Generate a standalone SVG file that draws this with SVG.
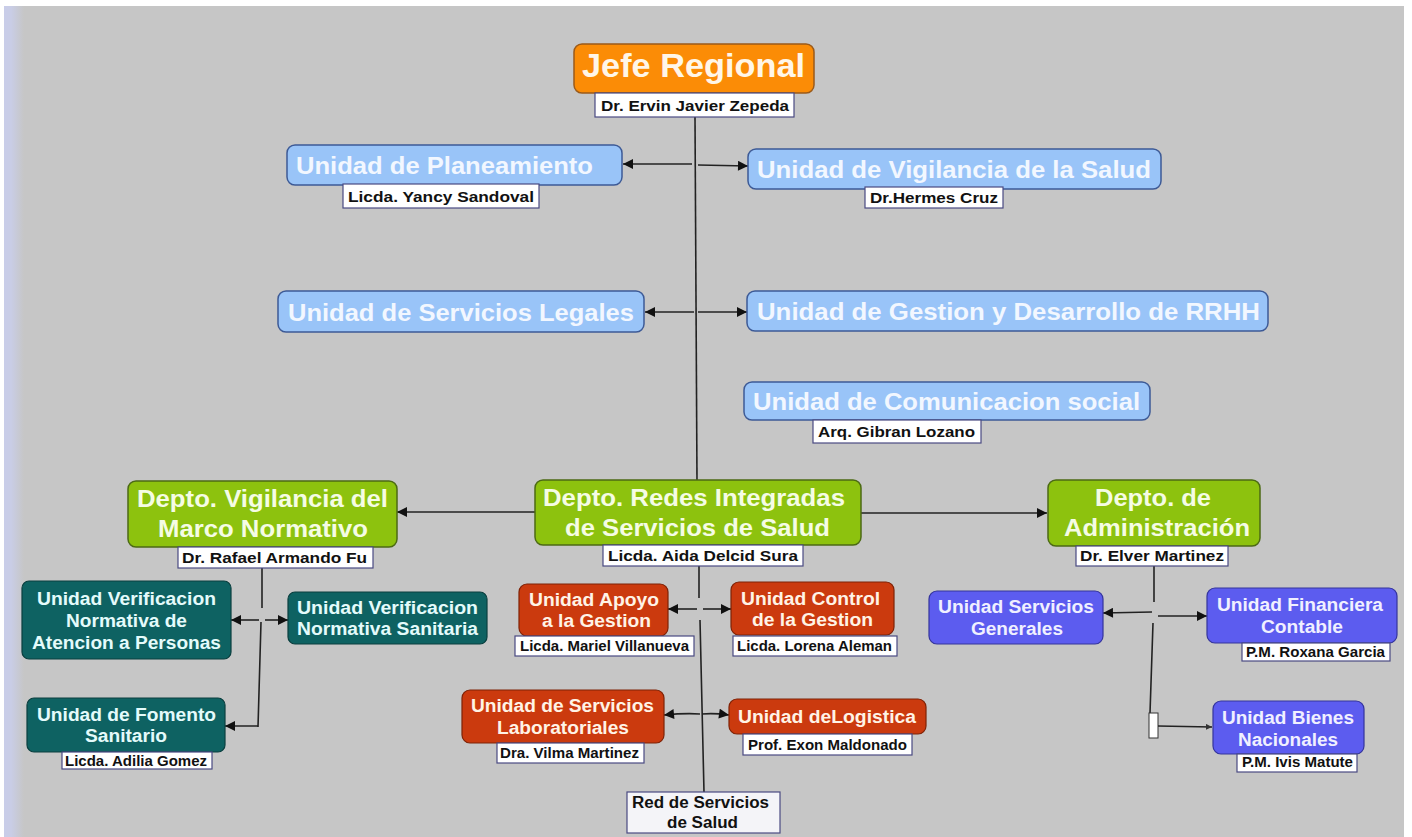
<svg xmlns="http://www.w3.org/2000/svg" width="1412" height="837" viewBox="0 0 1412 837">
<defs>
<linearGradient id="strip" x1="0" y1="0" x2="1" y2="0">
<stop offset="0" stop-color="#c9cde9"/>
<stop offset="0.35" stop-color="#c9cde6"/>
<stop offset="1" stop-color="#c6c6c6"/>
</linearGradient>
<marker id="ah" viewBox="0 0 10 10" markerWidth="11" markerHeight="10" refX="10" refY="5" orient="auto" markerUnits="userSpaceOnUse">
<path d="M0,0 L10,5 L0,10 z" fill="#111"/>
</marker>
<marker id="ahs" viewBox="0 0 10 10" markerWidth="6" markerHeight="6" refX="10" refY="5" orient="auto" markerUnits="userSpaceOnUse">
<path d="M0,0 L10,5 L0,10 z" fill="#333"/>
</marker>
</defs>
<style>
text{font-family:"Liberation Sans",Arial,sans-serif;font-weight:bold;text-anchor:middle}
.lb{fill:#99c4f8;stroke:#3d5a96;stroke-width:1.5}
.lbt{fill:#f2f7ff;font-size:23px}
.or{fill:#fb8c06;stroke:#9a5a1a;stroke-width:1.5}
.ort{fill:#fff6e8;font-size:33px}
.gr{fill:#8dc20e;stroke:#4c6a14;stroke-width:1.5}
.grt{fill:#f5fce4;font-size:23px}
.te{fill:#0e6262;stroke:#0a3f3f;stroke-width:1.2}
.tet{fill:#e4fbfb;font-size:18px}
.rd{fill:#cb3a0e;stroke:#7e2206;stroke-width:1.2}
.rdt{fill:#fff3e6;font-size:18px}
.pu{fill:#5c5cef;stroke:#34349c;stroke-width:1.2}
.put{fill:#f0f0ff;font-size:18px}
.lab{fill:#ffffff;stroke:#4a4a82;stroke-width:1.2}
.labt{fill:#111;font-size:15px}
.con{fill:none;stroke:#222;stroke-width:1.6}
.arr{marker-end:url(#ah)}
</style>
<rect x="0" y="0" width="1412" height="837" fill="#ffffff"/>
<rect x="4" y="6" width="1400" height="831" fill="#c6c6c6"/>
<rect x="4" y="6" width="20" height="831" fill="url(#strip)"/>

<g id="connectors">
<path class="con" d="M695,117 L697,480"/>
<path class="con arr" d="M692,164 L623,164"/>
<path class="con arr" d="M698,165 L748,166"/>
<path class="con arr" d="M694,312 L645,312"/>
<path class="con arr" d="M698,312 L747,312"/>
<path class="con arr" d="M535,512 L397,512"/>
<path class="con arr" d="M861,513 L1047,513"/>
<path class="con" d="M262,568 L262,608 M261,622 L258,727"/>
<path class="con arr" d="M259,620 L231,620"/>
<path class="con arr" d="M265,620 L288,620"/>
<path class="con arr" d="M258,726 L225,726"/>
<path class="con" d="M699,566 L699,598 M700,620 L704,792"/>
<path class="con arr" d="M697,609 L668,609"/>
<path class="con arr" d="M703,609 L731,609"/>
<path class="con arr" d="M700,714 Q685,713 664,715"/>
<path class="con arr" d="M702,714 Q715,713 729,715"/>
<path class="con" d="M1154,566 L1154,602 M1153,623 L1150,713"/>
<path class="con arr" d="M1152,612 L1103,613"/>
<path class="con arr" d="M1158,616 L1207,616"/>
<rect x="1149" y="713" width="9" height="25" fill="#ffffff" stroke="#333" stroke-width="1"/>
<path class="con" d="M1158,726 L1212,727" style="marker-end:url(#ahs)"/>
</g>

<g id="jefe">
<rect class="or" x="574" y="44" width="240" height="49" rx="8"/>
<text class="ort" x="693.5" y="77" textLength="223" lengthAdjust="spacingAndGlyphs">Jefe Regional</text>
<rect class="lab" x="595" y="93" width="199" height="24"/>
<text class="labt" x="695" y="111" textLength="188" lengthAdjust="spacingAndGlyphs">Dr. Ervin Javier Zepeda</text>
</g>

<g id="planeamiento">
<rect class="lb" x="287" y="145" width="335" height="40" rx="8"/>
<text class="lbt" x="444.5" y="174" textLength="297" lengthAdjust="spacingAndGlyphs">Unidad de Planeamiento</text>
<rect class="lab" x="343" y="184" width="196" height="24"/>
<text class="labt" x="441" y="202" textLength="186" lengthAdjust="spacingAndGlyphs">Licda. Yancy Sandoval</text>
</g>

<g id="vigilancia-salud">
<rect class="lb" x="748" y="149" width="413" height="40" rx="8"/>
<text class="lbt" x="954" y="178" textLength="394" lengthAdjust="spacingAndGlyphs">Unidad de Vigilancia de la Salud</text>
<rect class="lab" x="865" y="187" width="138" height="21"/>
<text class="labt" x="934" y="203" textLength="128" lengthAdjust="spacingAndGlyphs">Dr.Hermes Cruz</text>
</g>

<g id="legales">
<rect class="lb" x="278" y="291" width="366" height="41" rx="8"/>
<text class="lbt" x="461" y="321" textLength="346" lengthAdjust="spacingAndGlyphs">Unidad de Servicios Legales</text>
</g>

<g id="rrhh">
<rect class="lb" x="747" y="291" width="521" height="40" rx="8"/>
<text class="lbt" x="1008.5" y="320" textLength="503" lengthAdjust="spacingAndGlyphs">Unidad de Gestion y Desarrollo de RRHH</text>
</g>

<g id="comunicacion">
<rect class="lb" x="744" y="382" width="406" height="38" rx="8"/>
<text class="lbt" x="946.5" y="410" textLength="387" lengthAdjust="spacingAndGlyphs">Unidad de Comunicacion social</text>
<rect class="lab" x="813" y="420" width="168" height="23"/>
<text class="labt" x="896.5" y="437" textLength="157" lengthAdjust="spacingAndGlyphs">Arq. Gibran Lozano</text>
</g>

<g id="depto-vigilancia">
<rect class="gr" x="128" y="481" width="269" height="66" rx="8"/>
<text class="grt" x="262.5" y="507" textLength="251" lengthAdjust="spacingAndGlyphs">Depto. Vigilancia del</text>
<text class="grt" x="263" y="537" textLength="210" lengthAdjust="spacingAndGlyphs">Marco Normativo</text>
<rect class="lab" x="178" y="547" width="195" height="21"/>
<text class="labt" x="274.5" y="563" textLength="185" lengthAdjust="spacingAndGlyphs">Dr. Rafael Armando Fu</text>
</g>

<g id="depto-redes">
<rect class="gr" x="535" y="480" width="326" height="65" rx="8"/>
<text class="grt" x="694" y="506" textLength="302" lengthAdjust="spacingAndGlyphs">Depto. Redes Integradas</text>
<text class="grt" x="697.5" y="536" textLength="265" lengthAdjust="spacingAndGlyphs">de Servicios de Salud</text>
<rect class="lab" x="603" y="545" width="200" height="21"/>
<text class="labt" x="703" y="561" textLength="190" lengthAdjust="spacingAndGlyphs">Licda. Aida Delcid Sura</text>
</g>

<g id="depto-administracion">
<rect class="gr" x="1048" y="480" width="212" height="66" rx="8"/>
<text class="grt" x="1153" y="506" textLength="116" lengthAdjust="spacingAndGlyphs">Depto. de</text>
<text class="grt" x="1157" y="536" textLength="186" lengthAdjust="spacingAndGlyphs">Administración</text>
<rect class="lab" x="1076" y="546" width="152" height="20"/>
<text class="labt" x="1152" y="561" textLength="144" lengthAdjust="spacingAndGlyphs">Dr. Elver Martinez</text>
</g>

<g id="verif-atencion">
<rect class="te" x="22" y="581" width="209" height="78" rx="7"/>
<text class="tet" x="126.5" y="605" textLength="179" lengthAdjust="spacingAndGlyphs">Unidad Verificacion</text>
<text class="tet" x="126.5" y="627" textLength="121" lengthAdjust="spacingAndGlyphs">Normativa de</text>
<text class="tet" x="126.5" y="649" textLength="189" lengthAdjust="spacingAndGlyphs">Atencion a Personas</text>
</g>

<g id="verif-sanitaria">
<rect class="te" x="288" y="592" width="199" height="52" rx="7"/>
<text class="tet" x="387.5" y="614" textLength="181" lengthAdjust="spacingAndGlyphs">Unidad Verificacion</text>
<text class="tet" x="387.5" y="635" textLength="181" lengthAdjust="spacingAndGlyphs">Normativa Sanitaria</text>
</g>

<g id="fomento">
<rect class="te" x="27" y="698" width="198" height="54" rx="7"/>
<text class="tet" x="126.5" y="721" textLength="179" lengthAdjust="spacingAndGlyphs">Unidad de Fomento</text>
<text class="tet" x="126" y="742" textLength="82" lengthAdjust="spacingAndGlyphs">Sanitario</text>
<rect class="lab" x="62" y="752" width="150" height="17"/>
<text class="labt" x="136" y="766" textLength="142" lengthAdjust="spacingAndGlyphs">Licda. Adilia Gomez</text>
</g>

<g id="apoyo">
<rect class="rd" x="519" y="584" width="149" height="52" rx="8"/>
<text class="rdt" x="594" y="606" textLength="130" lengthAdjust="spacingAndGlyphs">Unidad Apoyo</text>
<text class="rdt" x="596.5" y="627" textLength="109" lengthAdjust="spacingAndGlyphs">a la Gestion</text>
<rect class="lab" x="515" y="636" width="179" height="20"/>
<text class="labt" x="604.5" y="651" textLength="169" lengthAdjust="spacingAndGlyphs">Licda. Mariel Villanueva</text>
</g>

<g id="control">
<rect class="rd" x="731" y="582" width="163" height="53" rx="8"/>
<text class="rdt" x="810.5" y="605" textLength="139" lengthAdjust="spacingAndGlyphs">Unidad Control</text>
<text class="rdt" x="812.5" y="626" textLength="121" lengthAdjust="spacingAndGlyphs">de la Gestion</text>
<rect class="lab" x="733" y="636" width="164" height="20"/>
<text class="labt" x="814.5" y="651" textLength="155" lengthAdjust="spacingAndGlyphs">Licda. Lorena Aleman</text>
</g>

<g id="laboratoriales">
<rect class="rd" x="462" y="690" width="202" height="53" rx="8"/>
<text class="rdt" x="562.5" y="712" textLength="183" lengthAdjust="spacingAndGlyphs">Unidad de Servicios</text>
<text class="rdt" x="563" y="734" textLength="132" lengthAdjust="spacingAndGlyphs">Laboratoriales</text>
<rect class="lab" x="497" y="743" width="147" height="20"/>
<text class="labt" x="569.5" y="758" textLength="139" lengthAdjust="spacingAndGlyphs">Dra. Vilma Martinez</text>
</g>

<g id="logistica">
<rect class="rd" x="729" y="699" width="197" height="35" rx="8"/>
<text class="rdt" x="827" y="723" textLength="178" lengthAdjust="spacingAndGlyphs">Unidad deLogistica</text>
<rect class="lab" x="743" y="734" width="169" height="21"/>
<text class="labt" x="827.5" y="750" textLength="159" lengthAdjust="spacingAndGlyphs">Prof. Exon Maldonado</text>
</g>

<g id="red-servicios">
<rect x="627" y="792" width="153" height="41" fill="#f4f4f8" stroke="#4a4a82" stroke-width="1.2"/>
<text x="700.5" y="808" style="font-size:16px;fill:#111" textLength="137" lengthAdjust="spacingAndGlyphs">Red de Servicios</text>
<text x="702.5" y="828" style="font-size:16px;fill:#111" textLength="71" lengthAdjust="spacingAndGlyphs">de Salud</text>
</g>

<g id="servicios-generales">
<rect class="pu" x="929" y="591" width="174" height="53" rx="8"/>
<text class="put" x="1016" y="613" textLength="156" lengthAdjust="spacingAndGlyphs">Unidad Servicios</text>
<text class="put" x="1017" y="635" textLength="92" lengthAdjust="spacingAndGlyphs">Generales</text>
</g>

<g id="financiera">
<rect class="pu" x="1207" y="588" width="190" height="55" rx="8"/>
<text class="put" x="1300" y="611" textLength="166" lengthAdjust="spacingAndGlyphs">Unidad Financiera</text>
<text class="put" x="1302" y="633" textLength="82" lengthAdjust="spacingAndGlyphs">Contable</text>
<rect class="lab" x="1242" y="643" width="148" height="18"/>
<text class="labt" x="1315.5" y="657" textLength="139" lengthAdjust="spacingAndGlyphs">P.M. Roxana Garcia</text>
</g>

<g id="bienes">
<rect class="pu" x="1213" y="701" width="151" height="53" rx="8"/>
<text class="put" x="1288" y="724" textLength="132" lengthAdjust="spacingAndGlyphs">Unidad Bienes</text>
<text class="put" x="1288" y="746" textLength="100" lengthAdjust="spacingAndGlyphs">Nacionales</text>
<rect class="lab" x="1237" y="754" width="120" height="18"/>
<text class="labt" x="1297.5" y="767" textLength="111" lengthAdjust="spacingAndGlyphs">P.M. Ivis Matute</text>
</g>
</svg>
